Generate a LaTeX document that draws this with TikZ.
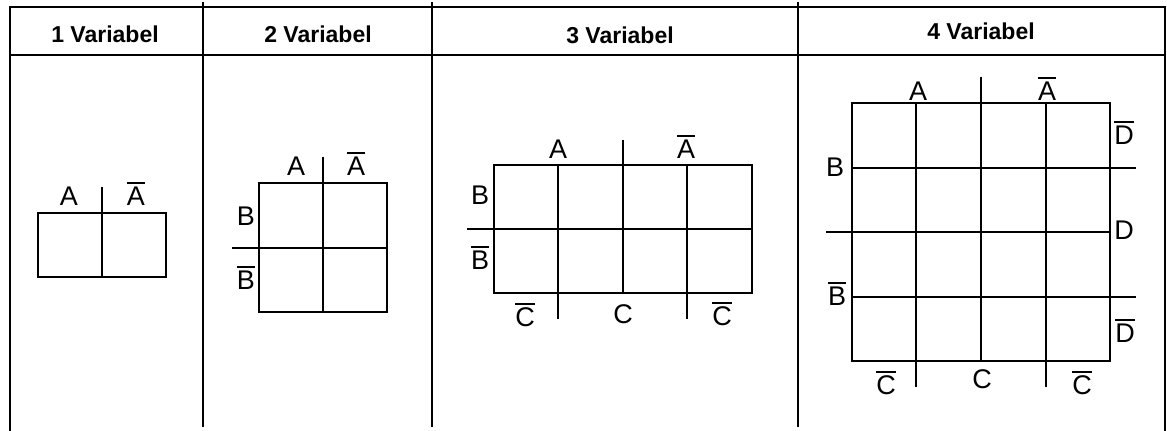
\documentclass[tikz,border=0pt]{standalone}
\usepackage{fontspec}
\setmainfont{Liberation Sans}
\usepackage{tikz}
\tikzset{
	kvhead/.style = {anchor=base, inner sep=0pt, font=\bfseries\fontsize{11.5}{13}\selectfont},
	kvlabel/.style = {anchor=base, inner sep=0pt, font=\fontsize{13.5}{15}\selectfont},
	kvgrid/.style = {line width=1.45pt},
	tabline/.style = {line width=0.9pt},
}
% negated variable: thick bar over the letter
\newcommand{\nicht}[1]{\vbox{\hrule height 1.1pt \kern 1.7pt \hbox{#1}}}

\begin{document}
\begin{tikzpicture}[x=0.5pt, y=-0.5pt]
	\useasboundingbox (0,0) rectangle (1167,431);

	% table frame and columns
	\draw[tabline] (10,431) -- (10,7) -- (1165,7) -- (1165,431);
	\draw[tabline] (10,55) -- (1165,55);
	\foreach \x in {203, 432, 798}
		\draw[line width=0.8pt] (\x,2) -- (\x,427);

	\node[kvhead] (h1) at (105,43) {1 Variabel};
	\node[kvhead] (h2) at (318,43) {2 Variabel};
	\node[kvhead] (h3) at (620,44) {3 Variabel};
	\node[kvhead] (h4) at (981,40) {4 Variabel};

	% 1 variable
	\draw[kvgrid] (38,213) rectangle (166,277);
	\draw[kvgrid] (102,187) -- (102,277);
	\node[kvlabel] (a1) at (69,206) {A};
	\node[kvlabel] (na1) at (136,206) {\nicht{A}};

	% 2 variables
	\draw[kvgrid] (259,183) rectangle (387,312);
	\draw[kvgrid] (323,157) -- (323,312);
	\draw[kvgrid] (232,248) -- (387,248);
	\node[kvlabel] (a2) at (296,176) {A};
	\node[kvlabel] (na2) at (356,176) {\nicht{A}};
	\node[kvlabel] (b2) at (246,226) {B};
	\node[kvlabel] (nb2) at (246,290) {\nicht{B}};

	% 3 variables
	\draw[kvgrid] (494,165) rectangle (752,293);
	\draw[kvgrid] (558,165) -- (558,319);
	\draw[kvgrid] (623,140) -- (623,293);
	\draw[kvgrid] (687,165) -- (687,319);
	\draw[kvgrid] (467,229) -- (752,229);
	\node[kvlabel] (a3) at (558,159) {A};
	\node[kvlabel] (na3) at (686,159) {\nicht{A}};
	\node[kvlabel] (b3) at (480,205) {B};
	\node[kvlabel] (nb3) at (480,270) {\nicht{B}};
	\node[kvlabel] (nc3l) at (525,327) {\nicht{C}};
	\node[kvlabel] (c3) at (623,324) {C};
	\node[kvlabel] (nc3r) at (722,326) {\nicht{C}};

	% 4 variables
	\draw[kvgrid] (852,103) rectangle (1110,361);
	\draw[kvgrid] (916,103) -- (916,387);
	\draw[kvgrid] (981,77) -- (981,361);
	\draw[kvgrid] (1046,103) -- (1046,387);
	\draw[kvgrid] (852,168) -- (1136,168);
	\draw[kvgrid] (826,232) -- (1110,232);
	\draw[kvgrid] (852,297) -- (1136,297);
	\node[kvlabel] (a4) at (918,101) {A};
	\node[kvlabel] (na4) at (1047,101) {\nicht{A}};
	\node[kvlabel] (b4) at (835,177) {B};
	\node[kvlabel] (nb4) at (837,306) {\nicht{B}};
	\node[kvlabel] (nd4t) at (1124,145) {\nicht{D}};
	\node[kvlabel] (d4) at (1124,240) {D};
	\node[kvlabel] (nd4b) at (1125,343) {\nicht{D}};
	\node[kvlabel] (nc4l) at (886,395) {\nicht{C}};
	\node[kvlabel] (c4) at (982,389) {C};
	\node[kvlabel] (nc4r) at (1082,395) {\nicht{C}};
\end{tikzpicture}
\end{document}
